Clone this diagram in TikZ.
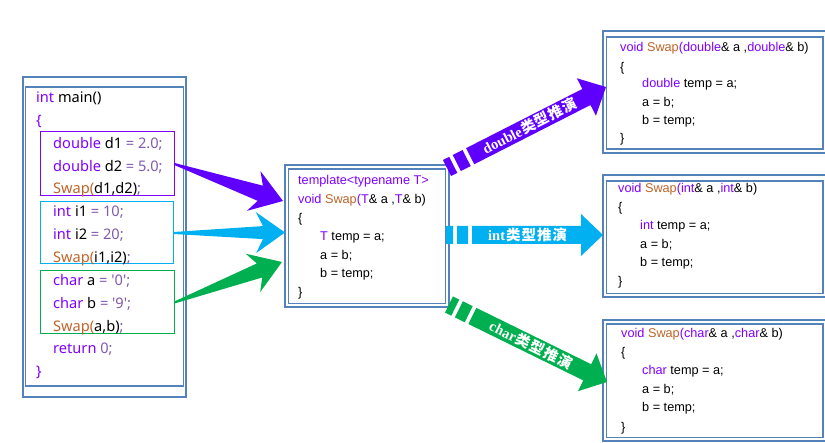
\documentclass[tikz,border=0pt]{standalone}
\usepackage{fontspec}
\setmainfont{Liberation Sans}
\newfontfamily\yh{Noto Sans}
\newfontfamily\cjk{Noto Sans CJK SC}
\newfontfamily\lserif{Liberation Serif}
\usetikzlibrary{calc,fit}
\definecolor{frm}{RGB}{84,130,186}
\definecolor{kw}{RGB}{128,0,255}
\definecolor{fn}{RGB}{190,100,40}
\definecolor{op}{RGB}{130,90,175}
\definecolor{pur}{RGB}{95,0,255}
\definecolor{cya}{RGB}{0,176,240}
\definecolor{grn}{RGB}{0,176,80}
\newcommand\K[1]{\textcolor{kw}{#1}}
\newcommand\F[1]{\textcolor{fn}{#1}}
\newcommand\Op[1]{\textcolor{op}{#1}}
\newcommand\Q{\textquotesingle}
\newcommand\CJ{\cjk 类\hspace{1pt}型\hspace{1pt}推\hspace{1pt}演}
% wedge arrow: tail, tip, colour, head length, shaft half width, head half width
\newcommand\wedgearrow[6]{%
  \fill[#3] let \p1=($(#2)-(#1)$), \n1={atan2(\y1,\x1)}, \n2={veclen(\x1,\y1)} in
    [shift={(#1)}, rotate=\n1] (0,-1) -- (\n2-#4,-#5) -- (\n2-#4-7,-#6) -- (\n2,0)
    -- (\n2-#4-7,#6) -- (\n2-#4,#5) -- (0,1) -- cycle;}
% barred block arrow: start, tip, colour
\newcommand\bararrow[3]{%
  \fill[#3] let \p1=($(#2)-(#1)$), \n1={atan2(\y1,\x1)}, \n2={veclen(\x1,\y1)} in
    [shift={(#1)}, rotate=\n1] (0,-9) rectangle (7,9) (11,-9) rectangle (22,9)
    (26,-9) -- (\n2-22,-9) -- (\n2-22,-21) -- (\n2,0) -- (\n2-22,21) -- (\n2-22,9)
    -- (26,9) -- cycle;}
\begin{document}
\begin{tikzpicture}[x=1pt,y=-1pt,
  frame/.style={draw=frm,line width=1.2pt,inner sep=0pt},
  grp/.style={line width=1pt,inner sep=0pt},
  code/.style={anchor=base west,inner sep=0pt,font=\fontsize{12.7}{14}\selectfont},
  mcode/.style={anchor=base west,inner sep=0pt,font=\yh\fontsize{14.6}{16}\selectfont},
  albl/.style={text=white,inner sep=0pt,font=\bfseries\fontsize{14.5}{16}\selectfont}]
\useasboundingbox (0,0) rectangle (825,443);
\fill[white] (0,0) rectangle (825,443);

% main box
\node[frame,fit={(23,77)(186,397)}] (mainO) {};
\node[frame,fit={(25.5,87)(183.5,386)}] (mainI) {};
\node[grp,draw=kw,fit={(40,132)(174,196)}] (g1) {};
\node[grp,draw=cya,fit={(40,202)(173,264)}] (g2) {};
\node[grp,draw=grn,fit={(40,271)(174,334)}] (g3) {};

\node[mcode] (m1) at (36,103) {\K{int} main()};
\node[mcode] (m2) at (36,126) {\K{\{}};
\node[mcode] (m3) at (53,148.5) {\K{double} d1 \Op{= 2.0;}};
\node[mcode] (m4) at (53,171.5) {\K{double} d2 \Op{= 5.0;}};
\node[mcode] (m5) at (53,194) {\F{Swap(}d1,d2)\Op{;}};
\node[mcode] (m6) at (53,217) {\K{int} i1 \Op{= 10;}};
\node[mcode] (m7) at (53,240) {\K{int} i2 \Op{= 20;}};
\node[mcode] (m8) at (53,263) {\F{Swap(}i1,i2)\Op{;}};
\node[mcode] (m9) at (53,286) {\K{char} a \Op{= \Q0\Q;}};
\node[mcode] (m10) at (53,308.5) {\K{char} b \Op{= \Q9\Q;}};
\node[mcode] (m11) at (53,331.5) {\F{Swap(}a,b)\Op{;}};
\node[mcode] (m12) at (53,354) {\K{return} \Op{0;}};
\node[mcode] (m13) at (36,377) {\K{\}}};

% template box
\node[frame,fit={(285,165)(449,307)}] (tmplO) {};
\node[frame,fit={(288.5,169)(445.5,303.5)}] (tmpl) {};
\node[code] (t1) at (298,185) {\K{template<typename T>}};
\node[code] (t2) at (298,203.5) {\K{void} \F{Swap}\K{(T}\& a ,\K{T}\& b)};
\node[code] (t3) at (298,222.5) {\{};
\node[code] (t4) at (320,241) {\K{T} temp = a;};
\node[code] (t5) at (320,259.5) {a = b;};
\node[code] (t6) at (320,278) {b = temp;};
\node[code] (t7) at (298,297) {\}};

% right boxes
\node[frame,fit={(603,31)(832,153)}] (r1O) {};
\node[frame,fit={(606.5,37)(823,149)}] (r1) {};
\node[code] (a1) at (620,52) {\K{void} \F{Swap}\K{(double}\& a ,\K{double}\& b)};
\node[code] (a2) at (620,71.5) {\{};
\node[code] (a3) at (642,88) {\K{double} temp = a;};
\node[code] (a4) at (642,106.5) {a = b;};
\node[code] (a5) at (642,124.5) {b = temp;};
\node[code] (a6) at (620,143) {\}};

\node[frame,fit={(603,175)(832,297)}] (r2O) {};
\node[frame,fit={(606.5,181)(823,293.5)}] (r2) {};
\node[code] (b1) at (618,193) {\K{void} \F{Swap}\K{(int}\& a ,\K{int}\& b)};
\node[code] (b2) at (618,211.5) {\{};
\node[code] (b3) at (640,230) {\K{int} temp = a;};
\node[code] (b4) at (640,248.5) {a = b;};
\node[code] (b5) at (640,267) {b = temp;};
\node[code] (b6) at (618,286) {\}};

\node[frame,fit={(603,320)(832,441)}] (r3O) {};
\node[frame,fit={(606.5,324)(823,437.5)}] (r3) {};
\node[code] (c1) at (621,338) {\K{void} \F{Swap}\K{(char}\& a ,\K{char}\& b)};
\node[code] (c2) at (621,357) {\{};
\node[code] (c3) at (642,375) {\K{char} temp = a;};
\node[code] (c4) at (642,393.5) {a = b;};
\node[code] (c5) at (642,412) {b = temp;};
\node[code] (c6) at (621,432) {\}};

% big wedge arrows into the template
\coordinate (p1) at (283,201);
\coordinate (p2) at (285,232.5);
\coordinate (p3) at (282,262);
\wedgearrow{g1.east}{p1}{pur}{24}{8}{21}
\wedgearrow{g2.east}{p2}{cya}{22}{6.5}{20.5}
\wedgearrow{g3.east}{p3}{grn}{24}{7.5}{20.5}

% barred arrows out of the template
\coordinate (s1) at (447,168);
\coordinate (e1) at (606,87);
\coordinate (s2) at (446,235);
\coordinate (e2) at (603,235);
\coordinate (s3) at (449,304.5);
\coordinate (e3) at (607,382);
\bararrow{s1}{e1}{pur}
\bararrow{s2}{e2}{cya}
\bararrow{s3}{e3}{grn}
\path (s1) -- (e1) node[albl,sloped,pos=0.52] (L1) {\lserif double\hspace{1pt}\CJ};
\path (s2) -- (e2) node[albl,sloped,pos=0.52] (L2) {\lserif int\hspace{1pt}\CJ};
\path (s3) -- (e3) node[albl,sloped,pos=0.52] (L3) {\lserif char\hspace{1pt}\CJ};
\end{tikzpicture}
\end{document}
